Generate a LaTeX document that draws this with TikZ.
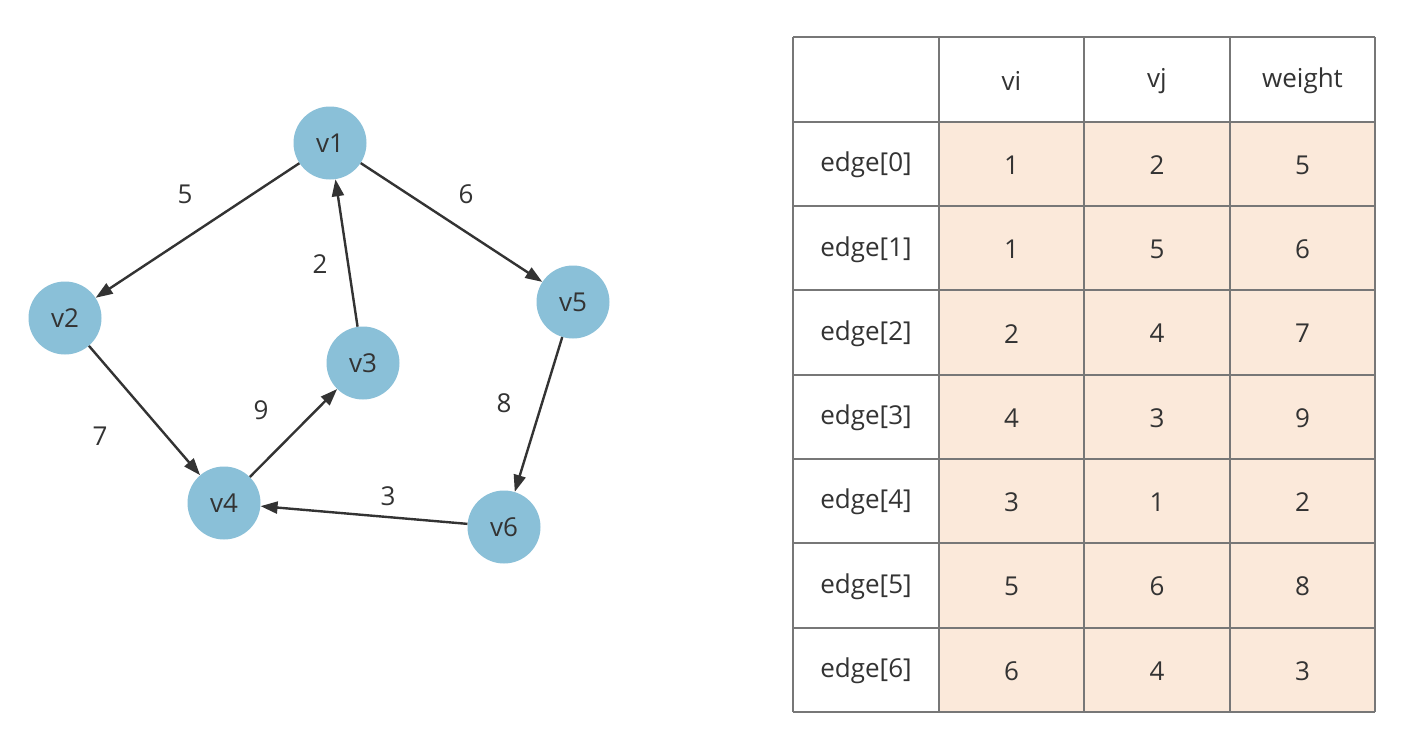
\documentclass[tikz,border=0pt]{standalone}
\usepackage{fontspec}
\setmainfont{Open Sans}
\usetikzlibrary{arrows.meta}
\definecolor{nodeblue}{HTML}{8AC0D8}
\definecolor{peach}{HTML}{FBE9DA}
\definecolor{edgegray}{HTML}{333333}
\definecolor{gridgray}{HTML}{777777}
\definecolor{txt}{HTML}{333333}
\tikzset{
  vert/.style={circle, fill=nodeblue, minimum size=73pt, inner sep=0pt, font=\fontsize{26}{30}\selectfont, text=txt},
  arc/.style={draw=edgegray, line width=2.4pt, -{Triangle[length=17pt,width=12pt]}},
  wlabel/.style={font=\fontsize{26}{30}\selectfont, text=txt},
  cell/.style={font=\fontsize{26}{30}\selectfont, text=txt}
}
\begin{document}
\begin{tikzpicture}[x=1pt,y=-1pt]
\useasboundingbox (0,0) rectangle (1404,744);
\fill[white] (0,0) rectangle (1404,744);
% graph
\node[vert] (v1) at (330,143) {v1};
\node[vert] (v2) at (65,318) {v2};
\node[vert] (v3) at (363,363) {v3};
\node[vert] (v4) at (224,503) {v4};
\node[vert] (v5) at (573,302) {v5};
\node[vert] (v6) at (504,527) {v6};
\draw[arc] (v1) -- (v2);
\draw[arc] (v1) -- (v5);
\draw[arc] (v3) -- (v1);
\draw[arc] (v2) -- (v4);
\draw[arc] (v4) -- (v3);
\draw[arc] (v5) -- (v6);
\draw[arc] (v6) -- (v4);
\node[wlabel] (l5) at (185,194) {5};
\node[wlabel] (l6) at (466,194) {6};
\node[wlabel] (l2) at (320,264) {2};
\node[wlabel] (l7) at (100,436) {7};
\node[wlabel] (l9) at (261,410) {9};
\node[wlabel] (l8) at (504,403) {8};
\node[wlabel] (l3) at (388,496) {3};
% table
\def\xa{793}\def\xb{939}\def\xc{1084}\def\xd{1230}\def\xe{1375}
\fill[peach] (\xb,122) rectangle (\xe,712);
\foreach \y in {37,122,206,290,375,459,543,628,712} \draw[gridgray, line width=1.5pt] (\xa,\y) -- (\xe,\y);
\foreach \x in {793,939,1084,1230,1375} \draw[gridgray, line width=1.5pt] (\x,37) -- (\x,712);
\node[cell] (hvi) at (1011.5,81) {vi};
\node[cell] (hvj) at (1157,81) {vj};
\node[cell] (hw) at (1302.5,81) {weight};
\foreach \i/\a/\b/\w [count=\r from 0] in {0/1/2/5,1/1/5/6,2/2/4/7,3/4/3/9,4/3/1/2,5/5/6/8,6/6/4/3}{
  \pgfmathsetmacro{\yy}{122+84.3*\r+43}
  \node[cell] (e\i) at (866,\yy) {edge[\i]};
  \node[cell] (a\i) at (1011.5,\yy) {\a};
  \node[cell] (b\i) at (1157,\yy) {\b};
  \node[cell] (w\i) at (1302.5,\yy) {\w};
}
\end{tikzpicture}
\end{document}
